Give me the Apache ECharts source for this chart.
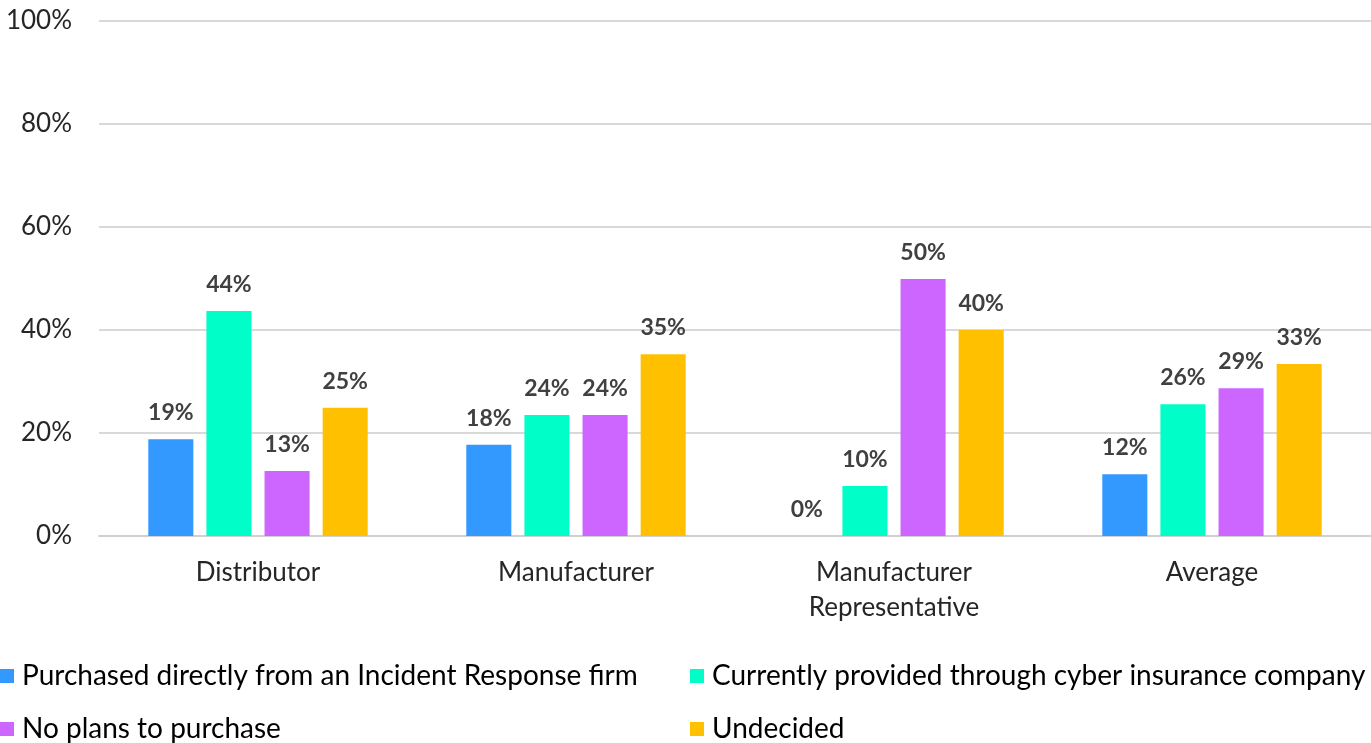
<!DOCTYPE html>
<html>
<head>
<meta charset="utf-8">
<script src="https://cdn.jsdelivr.net/npm/echarts@6/dist/echarts.min.js"></script>
<style>html,body{margin:0;padding:0;background:#fff;}#c{width:1371px;height:743px;}</style>
</head>
<body>
<div id="c"></div>
<script>
const categories = ['Distributor', 'Manufacturer', 'Manufacturer\nRepresentative', 'Average'];
const seriesNames = ['Purchased directly from an Incident Response firm', 'Currently provided through cyber insurance company', 'No plans to purchase', 'Undecided'];
const purchasedIR = [18.8, 17.7, 0, 12.0];
const cyberInsurance = [43.7, 23.5, 9.7, 25.6];
const noPlans = [12.6, 23.5, 49.9, 28.7];
const undecided = [24.9, 35.3, 40.0, 33.4];
const yTicks = [0, 20, 40, 60, 80, 100];
const colors = ['#3399FF', '#00FFC8', '#CC66FF', '#FFC000'];

const FONT = 'Lato';
const values = [purchasedIR, cyberInsurance, noPlans, undecided];
const chart = echarts.init(document.getElementById('c'));
const legendBase = { orient: 'vertical', top: 662, itemWidth: 14, itemHeight: 14, itemGap: 25, icon: 'rect', padding: 0,
  textStyle: { fontFamily: FONT, fontSize: 28, color: '#000', lineHeight: 28, padding: [0, 0, 0, 3] } };
chart.setOption({
  animation: false,
  color: colors,
  textStyle: { fontFamily: FONT },
  grid: { left: 99, right: 0, top: 21, bottom: 207 },
  legend: [
    Object.assign({}, legendBase, { data: [seriesNames[0], seriesNames[2]], left: 0 }),
    Object.assign({}, legendBase, { data: [seriesNames[1], seriesNames[3]], left: 690 })
  ],
  xAxis: {
    type: 'category', data: categories,
    axisTick: { show: false },
    axisLine: { lineStyle: { color: '#d0d0d0', width: 2 } },
    axisLabel: { fontFamily: FONT, fontSize: 26, color: '#262626', margin: 19, lineHeight: 35 }
  },
  yAxis: {
    type: 'value', min: 0, max: 100, interval: 20,
    axisLabel: { fontFamily: FONT, fontSize: 26, color: '#262626', margin: 27, formatter: v => yTicks.includes(v) ? v + '%' : '' },
    splitLine: { lineStyle: { color: '#d9d9d9', width: 2 } },
    axisLine: { show: false }, axisTick: { show: false }
  },
  series: seriesNames.map((n, i) => ({
    name: n, type: 'bar', data: values[i],
    barGap: '29%', barCategoryGap: '31%',
    label: { show: true, position: 'top', distance: 15, fontFamily: FONT, fontSize: 23, fontWeight: 'bold', color: '#404040',
      formatter: p => Math.round(p.value) + '%' }
  }))
});
</script>
</body>
</html>
